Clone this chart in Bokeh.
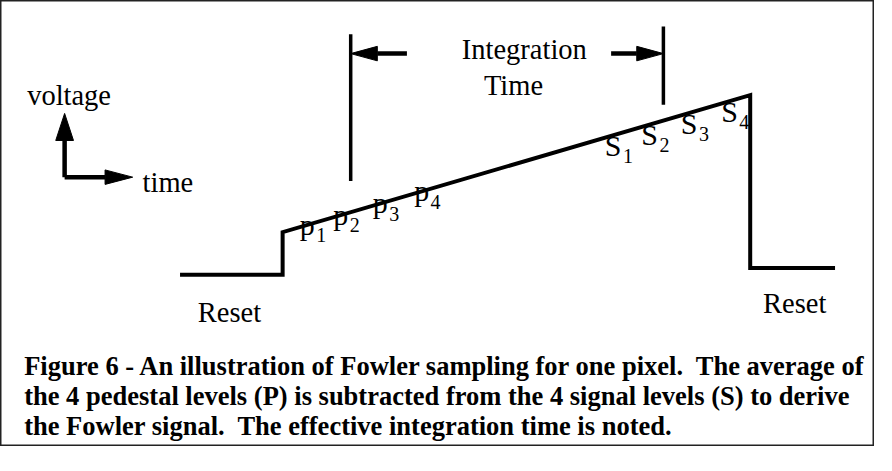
import numpy as np
from bokeh.plotting import figure
from bokeh.models import Range1d, ColumnDataSource
from bokeh.core.properties import value
from bokeh.embed import file_html
from bokeh.resources import INLINE

# ---- diagram data (diagram units = reference pixels, y grows downward) ----
wave_t = [185, 289, 289, 763, 763, 849]          # pixel signal: reset, jump, ramp, reset
wave_v = [289, 289, 245, 103, 282, 282]
ramp_t = [289, 763]
ramp_v = [245, 103]

marker_t = [358, 675]                             # integration-time markers
marker_top = [40, 32]
marker_bot = [192, 113]
span_arrow_tail = [415, 622]
span_arrow_tip = [358, 675]
span_arrow_y = [60, 60]

axis_corner = (68, 188)                           # small voltage/time key
axis_up_tip = (68, 122)
axis_right_tip = (137, 188)

p_t = [314, 348, 388, 430]                        # pedestal samples
s_t = [624, 661, 701, 742]                        # signal samples
sub_labels = ["1", "2", "3", "4"]

label_text = ["Integration", "Time", "voltage", "time", "Reset", "Reset"]
label_x = [534, 523, 30, 147, 203, 776]
label_y = [65, 102, 113, 203, 337, 328]          # text baselines
label_align = ["center", "center", "left", "left", "left", "left"]

caption = [
    "Figure 6 - An illustration of Fowler sampling for one pixel.\u00a0 The average of",
    "the 4 pedestal levels (P) is subtracted from the 4 signal levels (S) to derive",
    "the Fowler signal.\u00a0 The effective integration time is noted.",
]
caption_x = 27
caption_y = [392, 423, 454]                       # text baselines

SERIF = value("Liberation Serif")
W, H = 874, 446
Y0, Y1 = 5, 467
YS = H / (Y1 - Y0)

def base(y, fs):
    # compensate the renderer's baseline offset
    return np.asarray(y, float) - 0.31 * fs / YS

p = figure(width=W, height=H, output_backend="svg", toolbar_location=None,
           x_range=Range1d(3, 889), y_range=Range1d(Y1, Y0), min_border=0,
           x_axis_location=None, y_axis_location=None)
p.grid.visible = False
p.outline_line_color = "#222222"
p.outline_line_width = 2
p.background_fill_color = "white"
p.border_fill_color = "white"

# waveform
p.line(wave_t, wave_v, line_color="black", line_width=4, line_join="miter")

# markers
p.segment(x0=marker_t, y0=marker_top, x1=marker_t, y1=marker_bot,
          line_color="black", line_width=3.5)

def arrow(tail, tip, head_len=28, head_w=16, width=4.5):
    tail = np.array(tail, float); tip = np.array(tip, float)
    d = tip - tail; d /= np.hypot(*d)
    n = np.array([-d[1], d[0]])
    b = tip - d * head_len
    p.line([tail[0], b[0]], [tail[1], b[1]], line_color="black", line_width=width)
    tri = np.array([tip, b + n * head_w / 2, b - n * head_w / 2])
    p.patch(tri[:, 0], tri[:, 1], fill_color="black", line_color="black", line_width=1)

for a, b, y in zip(span_arrow_tail, span_arrow_tip, span_arrow_y):
    arrow((a, y), (b, y), head_len=27, head_w=15)

arrow(axis_corner, axis_up_tip, head_len=28, head_w=18)
arrow(axis_corner, axis_right_tip, head_len=28, head_w=15)

# sample labels
FS_MAIN, FS_SUB = 30, 20
p_v = np.interp(p_t, ramp_t, ramp_v)
s_v = np.interp(s_t, ramp_t, ramp_v)
src_p = ColumnDataSource(dict(x=p_t, y=base(p_v + 9, FS_MAIN), t=["p"] * 4,
                              sx=np.array(p_t) + 9, sy=base(p_v + 17, FS_SUB), st=sub_labels))
src_s = ColumnDataSource(dict(x=s_t, y=base(s_v + 20, FS_MAIN), t=["S"] * 4,
                              sx=np.array(s_t) + 10, sy=base(s_v + 28, FS_SUB), st=sub_labels))
for src in (src_p, src_s):
    p.text(x="x", y="y", text="t", source=src, text_font=SERIF, text_font_size=f"{FS_MAIN}px",
           text_align="center", text_baseline="alphabetic", text_color="black")
    p.text(x="sx", y="sy", text="st", source=src, text_font=SERIF, text_font_size=f"{FS_SUB}px",
           text_align="left", text_baseline="alphabetic", text_color="black")

# other labels
FS_LAB = 28.5
src_l = ColumnDataSource(dict(x=label_x, y=base(label_y, FS_LAB), t=label_text, a=label_align))
p.text(x="x", y="y", text="t", text_align="a", source=src_l, text_font=SERIF,
       text_font_size=f"{FS_LAB}px", text_baseline="alphabetic", text_color="black")

# caption
FS_CAP = 26.5
p.text(x=[caption_x] * 3, y=base(caption_y, FS_CAP), text=caption, text_font=SERIF,
       text_font_size=f"{FS_CAP}px", text_font_style="bold", text_align="left",
       text_baseline="alphabetic", text_color="black")

open("out.html", "w").write(file_html(p, INLINE))
